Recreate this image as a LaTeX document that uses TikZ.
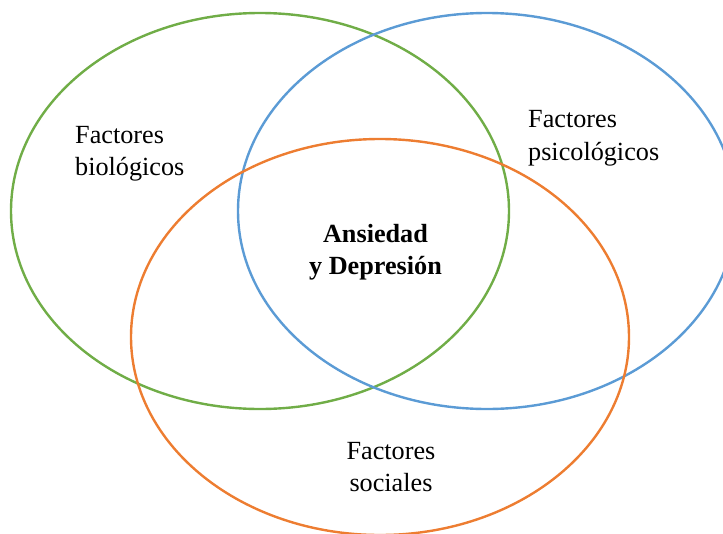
\documentclass[tikz,border=0pt]{standalone}
\usepackage{fontspec}
\setmainfont{Liberation Serif}
\definecolor{vgreen}{HTML}{70AD47}
\definecolor{vblue}{HTML}{5B9BD5}
\definecolor{vorange}{HTML}{ED7D31}
\begin{document}
\begin{tikzpicture}[x=1pt,y=-1pt,
  ring/.style={line width=2.4pt},
  lbl/.style={inner sep=0pt,font=\fontsize{26.2}{32.5}\selectfont}]
\useasboundingbox (0,0) rectangle (723,533);
\clip (0,0) rectangle (723,533);
\draw[ring,vgreen] (260,211) ellipse [x radius=249pt,y radius=198pt];
\draw[ring,vblue] (487,211) ellipse [x radius=249pt,y radius=198pt];
\draw[ring,vorange] (380,337) ellipse [x radius=249pt,y radius=198pt];
\node[lbl,anchor=base west,align=left] (bio) at (75,175.5) {Factores\\biológicos};
\node[lbl,anchor=base west,align=left] (psi) at (528,160) {Factores\\psicológicos};
\node[lbl,anchor=base,align=center,font=\fontsize{26.2}{32}\selectfont\bfseries] (ad) at (375.5,274) {Ansiedad\\y Depresión};
\node[lbl,anchor=base,align=center] (soc) at (391,491.5) {Factores\\sociales};
\end{tikzpicture}
\end{document}
